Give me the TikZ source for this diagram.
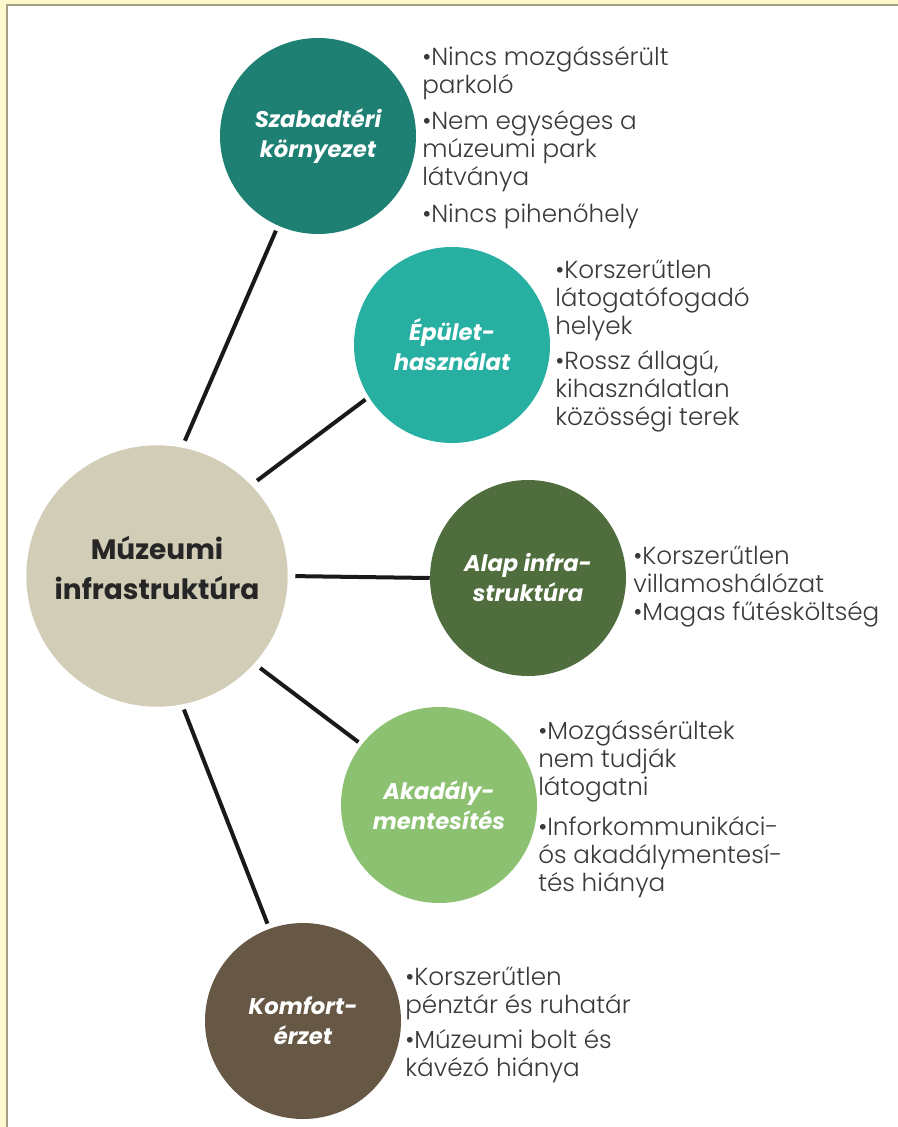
\documentclass[tikz,border=0pt]{standalone}
\usepackage{fontspec}
\setmainfont{Poppins}
\newfontfamily\itemfont{Poppins}[UprightFont=* Light]
\definecolor{frameyel}{HTML}{FFF8CC}
\definecolor{framegray}{HTML}{A39F85}
\definecolor{cMain}{HTML}{D1CDB7}
\definecolor{cSzab}{HTML}{1E7F73}
\definecolor{cEpul}{HTML}{27B0A2}
\definecolor{cAlap}{HTML}{4F6D3D}
\definecolor{cAkad}{HTML}{8DC172}
\definecolor{cKomf}{HTML}{675845}
\definecolor{txtgray}{HTML}{3A3A3A}
\definecolor{txtdark}{HTML}{262626}
\begin{document}
\begin{tikzpicture}[x=0.75pt,y=-0.75pt,
  hub/.style={circle,fill=cMain,minimum size=196pt,inner sep=0pt},
  hubtext/.style={inner sep=0pt,align=center,text=txtdark,
    font=\fontsize{21}{29.5}\selectfont\bfseries},
  topic/.style={circle,minimum size=147pt,inner sep=0pt,align=center,text=white,
    font=\fontsize{17}{22.5}\selectfont\bfseries\itshape},
  items/.style={anchor=north west,inner sep=0pt,align=left,text=txtgray,
    font=\itemfont\fontsize{18.5}{21}\selectfont},
  link/.style={line width=3pt,draw=black!90}]
\useasboundingbox (0,0) rectangle (898,1127);
% frame
\fill[frameyel] (0,0) rectangle (898,1127);
\fill[white] (8,6) rectangle (898,1127);
\draw[framegray,line width=2.2pt] (7,1127) -- (7,5) -- (898,5);
% nodes
\node[hub] (c) at (157,576) {};
\node[hubtext] (ct) at (157,568) {Múzeumi\\infrastruktúra};
\node[topic,fill=cSzab] (s1) at (318,136) {Szabadtéri\\környezet};
\node[topic,fill=cEpul] (s2) at (452,345) {Épület-\\használat};
\node[topic,fill=cAlap] (s3) at (528,578) {Alap infra-\\struktúra};
\node[topic,fill=cAkad] (s4) at (439,805) {Akadály-\\mentesítés};
\node[topic,fill=cKomf] (s5) at (303,1021) {Komfort-\\érzet};
% connectors
\draw[link,shorten <=5.5pt,shorten >=4pt] (c.79) -- (s1.246);
\draw[link,shorten <=5.5pt,shorten >=3pt] (c.44) -- (s2.212);
\draw[link,shorten <=5.5pt] (c.0) -- (s3.180);
\draw[link,shorten <=5.5pt,shorten >=3pt] (c.-42) -- (s4.142);
\draw[link,shorten <=4pt,shorten >=4pt] (c.-79) -- (s5.110);
% item lists
\node[items] (t1) at (422,46) {•Nincs mozgássérült\\parkoló\\[6.5pt]•Nem egységes a\\múzeumi park\\látványa\\[6.5pt]•Nincs pihenőhely};
\node[items] (t2) at (555,260) {•Korszerűtlen\\látogatófogadó\\helyek\\[5pt]•Rossz állagú,\\kihasználatlan\\közösségi terek};
\node[items] (t3) at (633,546) {•Korszerűtlen\\villamoshálózat\\•Magas fűtésköltség};
\node[items] (t4) at (538,720) {•Mozgássérültek\\nem tudják\\látogatni\\[9pt]•Inforkommunikáci-\\ós akadálymentesí-\\tés hiánya};
\node[items] (t5) at (405,967) {•Korszerűtlen\\pénztár és ruhatár\\[5pt]•Múzeumi bolt és\\kávézó hiánya};
\end{tikzpicture}
\end{document}
